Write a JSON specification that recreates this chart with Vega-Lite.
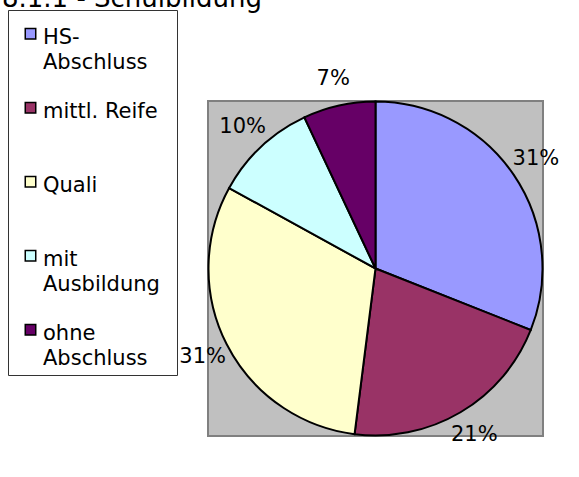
{
  "$schema": "https://vega.github.io/schema/vega-lite/v6.json",
  "width": 335,
  "height": 335,
  "autosize": {"type": "none"},
  "padding": {"left": 208, "top": 101, "right": 36, "bottom": 41},
  "background": "white",
  "title": {
    "text": "8.1.1 - Schulbildung",
    "anchor": "start",
    "frame": "group",
    "dx": -206,
    "offset": -20,
    "dy": 3,
    "baseline": "alphabetic",
    "fontSize": 26,
    "font": "DejaVu Sans",
    "fontWeight": "normal",
    "color": "black"
  },
  "data": {
    "values": [
      {"Nr": 1, "Kategorie": "HS-Abschluss", "Anteil": 0.31},
      {"Nr": 2, "Kategorie": "mittl. Reife", "Anteil": 0.21},
      {"Nr": 3, "Kategorie": "Quali", "Anteil": 0.31},
      {"Nr": 4, "Kategorie": "mit Ausbildung", "Anteil": 0.10},
      {"Nr": 5, "Kategorie": "ohne Abschluss", "Anteil": 0.07}
    ]
  },
  "layer": [
    {
      "transform": [{"aggregate": [{"op": "count", "as": "n"}]}],
      "mark": {"type": "rect", "fill": "#c0c0c0", "stroke": "#808080", "strokeWidth": 2}
    },
    {
      "mark": {"type": "arc", "outerRadius": 167, "stroke": "black", "strokeWidth": 2},
      "encoding": {
        "theta": {"field": "Anteil", "type": "quantitative", "stack": true},
        "order": {"field": "Nr", "type": "quantitative"},
        "color": {
          "field": "Kategorie",
          "type": "nominal",
          "sort": ["HS-Abschluss", "mittl. Reife", "Quali", "mit Ausbildung", "ohne Abschluss"],
          "scale": {
            "domain": ["HS-Abschluss", "mittl. Reife", "Quali", "mit Ausbildung", "ohne Abschluss"],
            "range": ["#9999ff", "#993366", "#ffffcc", "#ccffff", "#660066"]
          },
          "legend": {
            "orient": "none",
            "legendX": -200,
            "legendY": -91,
            "title": "\u00a0",
            "titleOrient": "right",
            "titleFontSize": 2,
            "titlePadding": 11,
            "symbolType": "M-1,0.4H1V2.4H-1Z",
            "symbolSize": 110,
            "symbolStrokeColor": "black",
            "symbolStrokeWidth": 1.5,
            "symbolOpacity": 1,
            "symbolOffset": 6,
            "labelFont": "DejaVu Sans",
            "labelFontSize": 21,
            "labelColor": "black",
            "labelLimit": 300,
            "labelBaseline": "top",
            "labelOffset": 2,
            "rowPadding": 17,
            "padding": 6,
            "strokeColor": "#333333",
            "fillColor": "white",
            "labelExpr": "datum.label == 'HS-Abschluss' ? ['HS-', 'Abschluss'] : datum.label == 'mit Ausbildung' ? ['mit', 'Ausbildung'] : datum.label == 'ohne Abschluss' ? ['ohne', 'Abschluss'] : [datum.label, '']"
          }
        }
      }
    },
    {
      "mark": {"type": "text", "radius": 194, "font": "DejaVu Sans", "fontSize": 21, "color": "black"},
      "encoding": {
        "theta": {"field": "Anteil", "type": "quantitative", "stack": true},
        "order": {"field": "Nr", "type": "quantitative"},
        "text": {"field": "Anteil", "type": "quantitative", "format": ".0%"}
      }
    }
  ],
  "config": {
    "style": {"guide-label": {"lineHeight": 25}}
  }
}
